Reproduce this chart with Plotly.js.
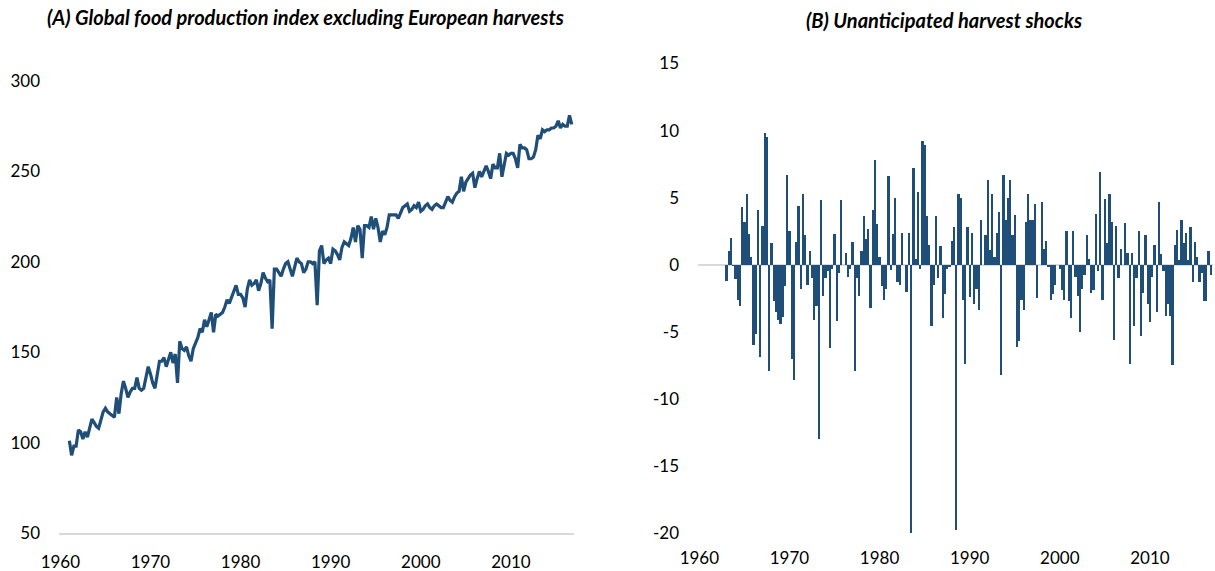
<!DOCTYPE html>
<html>
<head>
<meta charset="utf-8">
<script src="https://cdn.plot.ly/plotly-3.0.1.min.js"></script>
<style>
html,body{margin:0;padding:0;background:#fff;}
#chart{width:1215px;height:571px;}
</style>
</head>
<body>
<div id="chart"></div>
<script>
// ---- Data ----
var titleA = "(A) Global food production index excluding European harvests";
var titleB = "(B) Unanticipated harvest shocks";

var indexStartYear = 1961; // quarterly, Q1 1961 onward
var indexValues = [
  101, 93, 98, 98,
  107, 106, 102, 106,
  103, 108, 113, 111,
  109, 108, 112, 117,
  119, 117, 116, 115,
  114, 125, 116, 127,
  134, 130, 125, 128,
  130, 130, 136, 130,
  129, 130, 136, 142,
  138, 133, 130, 137,
  145, 145, 147, 142,
  146, 150, 144, 149,
  133, 156, 152, 151,
  153, 148, 145, 152,
  155, 158, 163, 161,
  168, 164, 168, 172,
  161, 171, 170, 171,
  172, 175, 179, 177,
  180, 184, 187, 182,
  182, 180, 175, 185,
  190, 187, 188, 190,
  184, 188, 194, 191,
  189, 190, 163, 196,
  196, 194, 192, 196,
  199, 200, 196, 192,
  197, 202, 200, 199,
  194, 196, 200, 200,
  199, 200, 176, 206,
  209, 199, 201, 202,
  199, 207, 206, 204,
  201, 208, 211, 210,
  209, 213, 219, 211,
  220, 218, 202, 220,
  220, 219, 225, 218,
  224, 219, 211, 217,
  215, 219, 226, 226,
  226, 226, 224, 227,
  230, 231, 232, 228,
  229, 231, 230, 233,
  228, 229, 231, 232,
  230, 229, 231, 232,
  231, 230, 230, 233,
  236, 234, 233, 236,
  238, 239, 247, 239,
  244, 246, 248, 249,
  241, 246, 250, 247,
  250, 253, 250, 246,
  254, 252, 252, 260,
  247, 254, 260, 259,
  260, 260, 257, 252,
  265, 263, 263, 262,
  257, 257, 258, 262,
  270, 268, 273, 272,
  273, 273, 274, 274,
  275, 278, 274, 276,
  275, 275, 281, 276
];

var shockStartYear = 1963; // quarterly, Q1 1963 onward
var shockValues = [
  -1.2, 1.0, 2.0, -0.1,
  -1.1, -2.6, -3.1, 4.3,
  3.2, 5.3, 2.3, 0.6,
  -6.0, -5.2, 4.1, -6.9,
  2.9, 9.8, 9.5, -7.9,
  1.6, -2.7, -3.5, -4.1,
  -4.4, -3.9, -1.6, 6.7,
  2.5, -7.0, -8.6, 1.7,
  4.4, -1.8, 5.3, 2.2,
  -1.5, 1.0, -1.0, -4.1,
  -3.1, -13.0, 4.8, -2.3,
  -1.0, -0.5, -6.2, -0.3,
  2.3, -4.2, -0.6, 4.8,
  0.0, 0.9, -0.9, -0.3,
  1.7, -7.9, -1.0, -2.3,
  1.0, 3.6, 1.9, 2.7,
  -3.2, 4.1, 7.8, 3.0,
  0.6, -1.6, -2.6, -1.8,
  6.6, -0.4, 2.3, 5.0,
  -1.3, -1.5, 2.4, 0.0,
  -2.0, 2.4, -20.0, 7.2,
  0.4, 5.4, -0.3, 9.2,
  8.9, 3.6, 1.5, -4.6,
  -1.5, 3.6, -1.0, 1.4,
  -4.0, -2.2, -0.3, -0.15,
  1.8, 2.8, -19.8, 5.3,
  5.0, -2.6, -7.4, 2.8,
  -2.4, 2.4, -2.9, -1.8,
  -3.4, 3.3, 0.0, 2.2,
  6.3, 1.1, 5.3, 0.55,
  2.4, 3.9, -8.2, 6.7,
  3.3, 5.0, 6.3, 2.2,
  3.7, -6.1, -5.7, -2.6,
  -3.4, 3.2, 5.3, 3.3,
  3.3, 4.5, -2.5, 0.0,
  4.7, 1.2, 1.8, -0.2,
  -2.6, -2.2, -1.5, 0.0,
  -0.3, -1.9, -2.6, 2.5,
  -2.7, -4.0, 2.5, -0.9,
  -2.3, -5.0, -1.8, -0.8,
  2.2, 0.4, -2.1, -1.9,
  3.8, -0.5, 6.9, -2.6,
  4.9, 1.6, 5.3, 3.2,
  -5.6, 2.9, -1.0, 1.2,
  0.0, 3.1, 0.85, -7.4,
  0.9, -4.6, -1.0, 2.5,
  -5.3, -2.1, 2.2, -2.9,
  -4.3, -0.9, 1.5, -3.5,
  4.7, 0.8, -0.45, -3.8,
  -2.9, -3.8, -7.5, 1.5,
  2.6, 0.35, 3.3, 1.6,
  2.4, 0.35, 2.8, -1.3,
  1.7, 0.55, -1.3, -0.65,
  -2.7, -2.7, 1.0, -0.8
];

var tickYears = [1960, 1970, 1980, 1990, 2000, 2010];
var indexTicks = [50, 100, 150, 200, 250, 300];
var shockTicks = [-20, -15, -10, -5, 0, 5, 10, 15];

// ---- Build quarterly time stamps ----
function quarterTimes(startYear, n) {
  var t = [];
  for (var i = 0; i < n; i++) t.push(startYear + Math.floor(i / 4) + (i % 4) / 4);
  return t;
}
var indexTimes = quarterTimes(indexStartYear, indexValues.length);
var shockTimes = quarterTimes(shockStartYear, shockValues.length);

var blue = '#1F4E79';
var tickFont = {family: 'Lato, "Open Sans", sans-serif', size: 17, color: '#000'};
var titleFont = {family: 'Lato, "Open Sans", sans-serif', size: 20, color: '#000'};
var W = 1215, H = 571;
function px(x) { return x / W; }
function py(y) { return (H - y) / H; }

var traces = [
  {
    type: 'scatter', mode: 'lines',
    x: indexTimes, y: indexValues,
    xaxis: 'x', yaxis: 'y',
    line: {color: blue, width: 3.2},
    hoverinfo: 'x+y'
  },
  {
    type: 'bar',
    x: shockTimes, y: shockValues,
    xaxis: 'x2', yaxis: 'y2',
    width: 0.25,
    marker: {color: blue, line: {width: 0}}
  }
];

var xRange = [1959.85, 2017.0];

var layout = {
  width: W, height: H,
  margin: {l: 0, r: 0, t: 0, b: 0},
  paper_bgcolor: '#fff', plot_bgcolor: '#fff',
  showlegend: false,
  bargap: 0,
  xaxis: {
    domain: [px(59), px(574)], range: xRange, anchor: 'y',
    tickmode: 'array', tickvals: tickYears, ticktext: tickYears.map(String),
    showgrid: false, zeroline: false,
    showline: true, linecolor: '#D9D9D9', linewidth: 1.5,
    ticks: '', ticklabelstandoff: 13, tickfont: tickFont, fixedrange: true
  },
  yaxis: {
    domain: [py(533), py(81)], range: [50, 300], anchor: 'x',
    tickmode: 'array', tickvals: indexTicks, ticktext: indexTicks.map(String),
    showgrid: false, zeroline: false, showline: false,
    ticks: '', ticklabelstandoff: 18, tickfont: tickFont, fixedrange: true
  },
  xaxis2: {
    domain: [px(698), px(1213)], range: xRange, anchor: 'y2',
    tickmode: 'array', tickvals: tickYears, ticktext: tickYears.map(String),
    showgrid: false, zeroline: false, showline: false,
    ticks: '', ticklabelstandoff: 13, tickfont: tickFont, fixedrange: true
  },
  yaxis2: {
    domain: [py(533), py(63.5)], range: [-20, 15], anchor: 'x2',
    tickmode: 'array', tickvals: shockTicks, ticktext: shockTicks.map(String),
    showgrid: false, zeroline: true, zerolinecolor: '#D9D9D9', zerolinewidth: 2,
    showline: false,
    ticks: '', ticklabelstandoff: 18, tickfont: tickFont, fixedrange: true
  },
  annotations: [
    {
      text: '<b><i>' + titleA + '</i></b>', showarrow: false,
      xref: 'paper', yref: 'paper', x: px(305), y: py(17),
      xanchor: 'center', yanchor: 'middle', font: titleFont
    },
    {
      text: '<b><i>' + titleB + '</i></b>', showarrow: false,
      xref: 'paper', yref: 'paper', x: px(944), y: py(20),
      xanchor: 'center', yanchor: 'middle', font: titleFont
    }
  ]
};

Plotly.newPlot('chart', traces, layout, {displayModeBar: false, staticPlot: true});
</script>
</body>
</html>
